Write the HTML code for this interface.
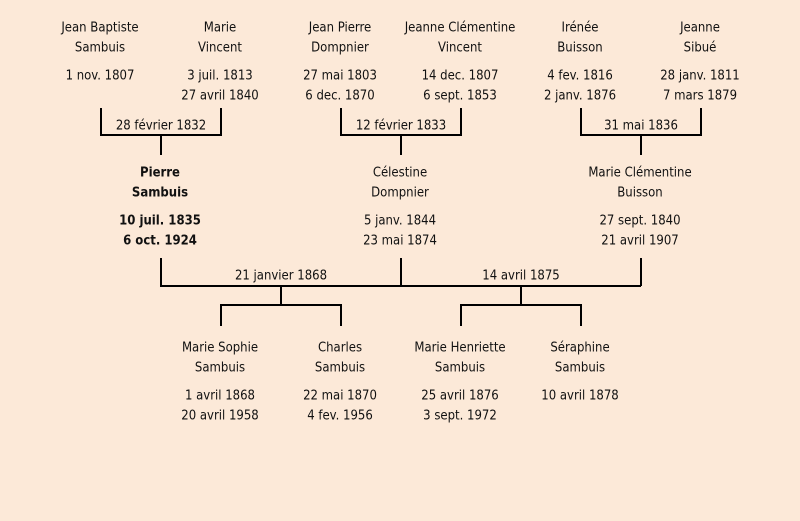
<!DOCTYPE html>
<html><head><meta charset="utf-8"><style>
html,body{margin:0;padding:0;background:#fce9d8;}
svg{display:block}
text{font-family:"Comic Sans MS","DejaVu Sans Condensed","DejaVu Sans",sans-serif;font-size:13px;fill:#111;text-anchor:middle;dominant-baseline:middle}
.b{font-weight:bold}
</style></head><body>
<svg width="800" height="521" xmlns="http://www.w3.org/2000/svg">
<rect width="800" height="521" fill="#fce9d8"/>
<g stroke="#000" stroke-width="2" fill="none">
<path d="M101 108V135H221V108M161 135V155"/>
<path d="M341 108V135H461V108M401 135V155"/>
<path d="M581 108V135H701V108M641 135V155"/>
<path d="M161 258V286H641M401 258V286M641 258V286"/>
<path d="M281 286V305M221 326V305H341V326"/>
<path d="M521 286V305M461 326V305H581V326"/>
</g>
<g transform="translate(0,1)">
<text x="100" y="27">Jean Baptiste</text><text x="100" y="47">Sambuis</text><text x="100" y="75">1 nov. 1807</text>
<text x="220" y="27">Marie</text><text x="220" y="47">Vincent</text><text x="220" y="75">3 juil. 1813</text><text x="220" y="95">27 avril 1840</text>
<text x="340" y="27">Jean Pierre</text><text x="340" y="47">Dompnier</text><text x="340" y="75">27 mai 1803</text><text x="340" y="95">6 dec. 1870</text>
<text x="460" y="27">Jeanne Clémentine</text><text x="460" y="47">Vincent</text><text x="460" y="75">14 dec. 1807</text><text x="460" y="95">6 sept. 1853</text>
<text x="580" y="27">Irénée</text><text x="580" y="47">Buisson</text><text x="580" y="75">4 fev. 1816</text><text x="580" y="95">2 janv. 1876</text>
<text x="700" y="27">Jeanne</text><text x="700" y="47">Sibué</text><text x="700" y="75">28 janv. 1811</text><text x="700" y="95">7 mars 1879</text>
<text x="161" y="125">28 février 1832</text>
<text x="401" y="125">12 février 1833</text>
<text x="641" y="125">31 mai 1836</text>
<text class="b" x="160" y="172">Pierre</text><text class="b" x="160" y="192">Sambuis</text><text class="b" x="160" y="220">10 juil. 1835</text><text class="b" x="160" y="240">6 oct. 1924</text>
<text x="400" y="172">Célestine</text><text x="400" y="192">Dompnier</text><text x="400" y="220">5 janv. 1844</text><text x="400" y="240">23 mai 1874</text>
<text x="640" y="172">Marie Clémentine</text><text x="640" y="192">Buisson</text><text x="640" y="220">27 sept. 1840</text><text x="640" y="240">21 avril 1907</text>
<text x="281" y="275">21 janvier 1868</text>
<text x="521" y="275">14 avril 1875</text>
<text x="220" y="347">Marie Sophie</text><text x="220" y="367">Sambuis</text><text x="220" y="395">1 avril 1868</text><text x="220" y="415">20 avril 1958</text>
<text x="340" y="347">Charles</text><text x="340" y="367">Sambuis</text><text x="340" y="395">22 mai 1870</text><text x="340" y="415">4 fev. 1956</text>
<text x="460" y="347">Marie Henriette</text><text x="460" y="367">Sambuis</text><text x="460" y="395">25 avril 1876</text><text x="460" y="415">3 sept. 1972</text>
<text x="580" y="347">Séraphine</text><text x="580" y="367">Sambuis</text><text x="580" y="395">10 avril 1878</text>
</g>
</svg>
</body></html>
